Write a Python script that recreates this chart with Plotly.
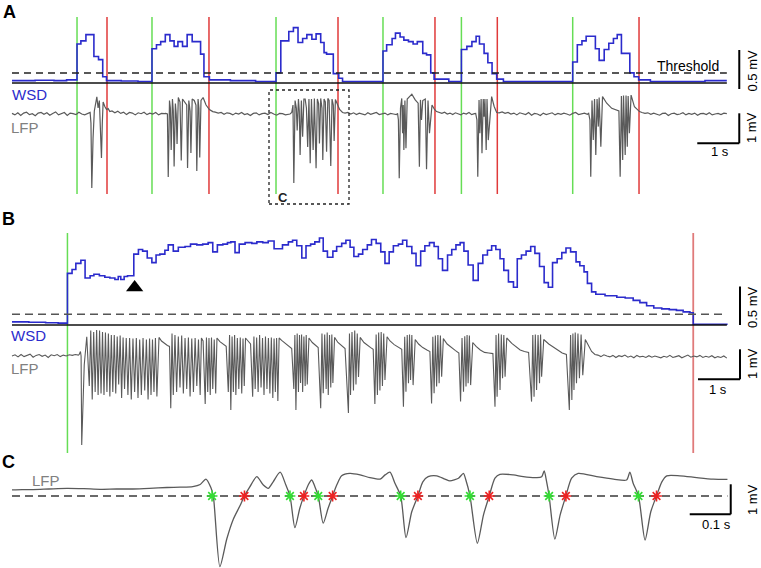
import numpy as np
import plotly.graph_objects as go

FONT = "Liberation Sans, Arial, sans-serif"
W, H = 761, 568
BLUE = "#2b2bcc"
GRAY = "#5a5a5a"
GREEN = "#66dd55"
RED_A = "#e03a3a"
RED_B = "#e07a7a"

# ================= DATA =================
# ---- Panel A : WSD (mV), step series (time s, value) ----
wsdA = [(0.00, 0.03), (0.55, 0.035), (1.00, 0.03), (1.30, 0.04), (1.548, 0.50), (1.64, 0.54), (1.76, 0.62),
        (1.95, 0.34), (2.06, 0.30), (2.16, 0.08), (2.25, 0.03), (2.60, 0.025), (3.00, 0.02),
        (3.333, 0.44), (3.44, 0.49), (3.54, 0.53), (3.65, 0.62), (3.76, 0.54), (3.86, 0.47), (3.95, 0.53),
        (4.06, 0.47), (4.17, 0.62), (4.29, 0.53), (4.49, 0.37), (4.57, 0.08), (4.70, 0.04), (5.20, 0.03), (5.80, 0.02),
        (6.286, 0.13), (6.40, 0.54), (6.59, 0.66), (6.70, 0.71), (6.81, 0.52), (6.92, 0.57), (7.02, 0.62), (7.14, 0.56),
        (7.24, 0.63), (7.35, 0.52), (7.43, 0.39), (7.49, 0.37), (7.65, 0.12), (7.78, 0.06), (7.87, 0.02),
        (8.833, 0.41), (8.92, 0.49), (9.05, 0.57), (9.13, 0.64), (9.24, 0.59), (9.33, 0.55), (9.44, 0.53), (9.55, 0.50),
        (9.65, 0.53), (9.78, 0.38), (9.87, 0.36), (9.97, 0.13), (10.05, 0.05), (10.40, 0.02),
        (10.70, 0.43), (10.83, 0.47), (10.95, 0.53), (11.05, 0.60), (11.13, 0.50), (11.24, 0.38), (11.33, 0.26),
        (11.43, 0.12), (11.54, 0.05), (11.70, 0.02),
        (13.35, 0.27), (13.46, 0.49), (13.57, 0.54), (13.67, 0.60), (13.89, 0.44), (13.98, 0.29), (14.10, 0.43),
        (14.21, 0.51), (14.32, 0.57), (14.41, 0.62), (14.51, 0.38), (14.71, 0.13), (14.81, 0.08), (14.92, 0.04),
        (15.20, 0.02), (16.50, 0.03), (17.02, 0.03)]
thrA = 0.128
onA = [1.548, 3.333, 6.286, 8.833, 10.70, 13.35]
offA = [2.262, 4.690, 7.762, 10.071, 11.555, 14.929]

# ---- Panel A : LFP (mV) bursts (time s, value) ----
lfpA_burst1 = [(1.83, 0.02), (1.86, 0.05), (1.88, -0.3), (1.90, -2.47), (1.93, -0.8), (1.96, 0.1), (2.02, 0.57),
               (2.05, 0.2), (2.08, 0.45), (2.11, -0.4), (2.13, -1.47), (2.15, -0.3), (2.17, 0.4), (2.21, 0.25),
               (2.25, 0.15), (2.29, 0.18), (2.33, 0.08)]
lfpA_burst2 = [(3.66, 0.02), (3.70, 0.0), (3.72, -2.1), (3.75, 0.45), (3.77, 0.2), (3.79, -1.2), (3.82, 0.5),
               (3.84, 0.1), (3.86, -1.75), (3.89, 0.35), (3.91, 0.0), (3.93, -1.0), (3.96, 0.55), (4.00, 0.4),
               (4.03, -1.55), (4.06, 0.5), (4.12, 0.4), (4.16, 0.3), (4.18, -1.8), (4.21, 0.45), (4.24, 0.1),
               (4.26, -1.3), (4.29, 0.5), (4.34, 0.45), (4.38, 0.3), (4.40, -1.9), (4.43, 0.5), (4.45, 0.2),
               (4.47, -1.45), (4.50, 0.45), (4.55, 0.55), (4.62, 0.3), (4.70, 0.15), (4.78, 0.08)]
lfpA_burst3 = [(6.62, 0.0), (6.66, 0.05), (6.69, 0.3), (6.71, -2.3), (6.74, 0.45), (6.77, 0.2), (6.79, -0.55),
               (6.82, 0.5), (6.84, 0.1), (6.86, -1.37), (6.89, 0.45), (6.92, -0.76), (6.95, 0.5), (6.98, 0.5),
               (7.01, 0.2), (7.04, -1.1), (7.07, 0.5), (7.10, -1.64), (7.13, 0.5), (7.17, -1.2), (7.20, 0.52),
               (7.24, -1.81), (7.27, 0.5), (7.30, 0.35), (7.32, -0.98), (7.35, 0.52), (7.38, 0.2), (7.40, -1.53),
               (7.43, 0.5), (7.46, 0.4), (7.49, -1.26), (7.52, 0.52), (7.55, 0.45), (7.59, -1.73), (7.62, 0.5),
               (7.65, 0.3), (7.67, -0.9), (7.70, 0.48), (7.75, 0.3), (7.80, 0.15), (7.87, 0.05)]
lfpA_burst4 = [(9.18, 0.02), (9.20, -0.2), (9.22, -2.14), (9.25, 0.2), (9.28, 0.52), (9.30, -0.64), (9.315, 0.3),
               (9.33, -1.2), (9.355, 0.45), (9.38, -1.14), (9.41, 0.5), (9.52, 0.66), (9.60, 0.47), (9.67, 0.36),
               (9.70, -1.76), (9.725, 0.47), (9.75, -0.2), (9.78, 0.45), (9.84, 0.5), (9.87, -1.84), (9.905, 0.45),
               (9.94, -0.64), (10.00, 0.3), (10.06, 0.15), (10.11, 0.08)]
lfpA_burst5 = [(11.04, 0.02), (11.07, -0.2), (11.09, -2.09), (11.12, 0.47), (11.14, -0.64), (11.17, 0.5),
               (11.19, -1.31), (11.22, 0.5), (11.24, -0.09), (11.26, 0.5), (11.29, -1.2), (11.31, 0.5),
               (11.34, -0.87), (11.42, 0.58), (11.48, 0.25), (11.54, 0.05)]
lfpA_burst6 = [(13.73, 0.02), (13.76, -0.2), (13.78, -2.09), (13.81, 0.45), (13.84, -0.87), (13.87, 0.5),
               (13.90, -1.37), (13.93, 0.5), (13.96, -0.42), (13.98, 0.55), (14.02, -1.09), (14.06, 0.58),
               (14.16, 0.36), (14.28, 0.19), (14.40, 0.13), (14.45, 0.1), (14.48, -2.09), (14.51, 0.6),
               (14.54, -1.53), (14.56, 0.62), (14.60, -1.37), (14.62, 0.62), (14.65, -1.09), (14.67, 0.6),
               (14.70, -0.64), (14.74, 0.63), (14.82, 0.24), (14.94, 0.08)]
# resting LFP between bursts: (start s, end s) and sampled values (mV)
lfpA_rest_span = [(0.00, 1.80), (2.38, 3.63), (4.84, 6.58), (7.93, 9.15), (10.17, 11.01), (11.60, 13.70), (15.00, 17.02)]
lfpA_rest_vals = [
    [0.02, -0.03, 0.04, -0.05, 0.03, 0.06, -0.02, 0.01, -0.06, 0.03, 0.05, -0.01, 0.04, -0.04, 0.02, 0.07, -0.03,
     0.0, 0.05, -0.05, 0.03, 0.01, -0.02, 0.06, 0.0, -0.03, 0.02],
    [0.1, 0.04, 0.09, 0.02, 0.06, -0.02, 0.05, 0.03, -0.03, 0.04, 0.01, 0.06, -0.02, 0.03, 0.0, 0.05, -0.03, 0.02, 0.01],
    [0.06, 0.03, 0.05, -0.01, 0.04, 0.02, -0.03, 0.03, 0.0, 0.05, -0.02, 0.01, -0.05, 0.02, 0.04, -0.03, 0.01, 0.03,
     -0.02, 0.05, 0.0, -0.04, 0.02, 0.01, -0.03, 0.0],
    [0.03, 0.05, 0.0, 0.04, -0.02, 0.03, 0.01, -0.03, 0.04, -0.01, 0.02, 0.05, -0.02, 0.01, 0.03, -0.03, 0.02, 0.0, -0.02],
    [0.05, 0.02, 0.06, 0.0, 0.03, -0.02, 0.04, 0.01, -0.03, 0.03, 0.0, 0.05, -0.02, 0.01],
    [0.04, 0.07, 0.02, 0.05, 0.0, 0.03, -0.03, 0.04, 0.01, -0.02, 0.05, -0.04, 0.02, 0.0, -0.05, 0.03, -0.02, 0.01,
     0.04, -0.03, 0.02, -0.01, 0.03, 0.0, -0.04, 0.02, 0.05, -0.02, 0.01, 0.03, -0.01],
    [0.05, 0.02, 0.04, -0.01, 0.03, 0.0, -0.04, 0.02, 0.03, -0.05, 0.01, 0.03, -0.02, 0.0, 0.04, -0.03, 0.02, -0.01,
     0.03, -0.04, 0.01, 0.02, -0.02, 0.04, -0.03, 0.0, 0.02, -0.02, 0.03, 0.01],
]

# ---- Panel B : WSD (mV) ----
wsdB = [(0.00, 0.04), (0.40, 0.035), (0.80, 0.03), (1.10, 0.025), (1.32, 0.67), (1.43, 0.72), (1.52, 0.80),
        (1.64, 0.84), (1.74, 0.61), (1.86, 0.64), (1.95, 0.66), (2.08, 0.64), (2.21, 0.62), (2.33, 0.61),
        (2.45, 0.59), (2.53, 0.63), (2.59, 0.59), (2.67, 0.63), (2.75, 0.64), (2.90, 0.92), (3.01, 0.98),
        (3.11, 0.96), (3.22, 0.87), (3.33, 0.81), (3.43, 0.91), (3.52, 0.92), (3.64, 0.97), (3.72, 1.04),
        (3.84, 0.96), (3.96, 1.01), (4.12, 1.02), (4.25, 1.05), (4.40, 1.04), (4.54, 1.05), (4.67, 1.07),
        (4.78, 0.95), (4.89, 1.04), (5.02, 1.05), (5.13, 1.07), (5.21, 1.08), (5.31, 0.94), (5.41, 1.05),
        (5.55, 1.07), (5.71, 1.06), (5.83, 1.08), (5.97, 1.07), (6.10, 1.09), (6.24, 0.99), (6.44, 1.04),
        (6.58, 1.08), (6.68, 1.10), (6.78, 1.03), (6.90, 0.87), (7.00, 1.03), (7.11, 1.05), (7.21, 1.08),
        (7.32, 1.13), (7.41, 0.96), (7.51, 0.88), (7.64, 0.96), (7.73, 1.02), (7.85, 1.06), (7.95, 1.10),
        (8.05, 1.01), (8.14, 0.89), (8.25, 0.92), (8.35, 0.98), (8.46, 1.04), (8.56, 1.11), (8.67, 1.06),
        (8.78, 0.95), (8.88, 0.80), (8.98, 0.95), (9.08, 1.03), (9.20, 1.05), (9.30, 1.10), (9.40, 1.02),
        (9.52, 0.93), (9.62, 0.77), (9.73, 0.96), (9.83, 1.03), (9.94, 1.07), (10.05, 1.02), (10.15, 0.86),
        (10.25, 0.71), (10.37, 0.91), (10.47, 0.98), (10.57, 1.04), (10.67, 1.07), (10.76, 0.96), (10.86, 0.78),
        (10.98, 0.58), (11.10, 0.80), (11.21, 0.91), (11.32, 0.97), (11.42, 1.03), (11.52, 0.98), (11.62, 0.86),
        (11.71, 0.71), (11.82, 0.56), (11.94, 0.49), (12.03, 0.86), (12.13, 0.91), (12.24, 0.96), (12.35, 1.02),
        (12.45, 0.93), (12.56, 0.76), (12.67, 0.55), (12.77, 0.49), (12.87, 0.81), (12.98, 0.86), (13.09, 0.94),
        (13.19, 1.00), (13.30, 0.95), (13.43, 0.82), (13.52, 0.77), (13.62, 0.69), (13.70, 0.54), (13.80, 0.43),
        (13.90, 0.40), (14.12, 0.38), (14.40, 0.36), (14.60, 0.35), (14.79, 0.32), (14.95, 0.29), (15.11, 0.25),
        (15.28, 0.22), (15.47, 0.21), (15.65, 0.20), (15.82, 0.19), (15.98, 0.17), (16.14, 0.16), (16.22, 0.01),
        (17.02, 0.02)]
thrB = 0.14
onB = [1.32]
offB = [16.22]
arrowB = (2.92, 0.487)

# ---- Panel B : LFP (mV) ----
lfpB_seizure = [
    (1.60, 0.05), (1.63, 0.15), (1.645, 0.0), (1.66, -2.97), (1.72, -0.3), (1.78, 0.64),
    (1.84, -1.0), (1.875, 0.85), (1.91, -1.45), (1.945, 0.8), (1.98, -1.2), (2.015, 0.87), (2.05, -1.3),
    (2.085, 0.85), (2.12, -1.25), (2.155, 0.8), (2.19, -1.3), (2.225, 0.78), (2.26, -1.2), (2.295, 0.75),
    (2.33, -1.35), (2.365, 0.7), (2.40, -1.2), (2.435, 0.7), (2.47, -1.25), (2.505, 0.65), (2.54, -0.95),
    (2.575, 0.68), (2.61, -1.4), (2.645, 0.62), (2.68, -1.1), (2.72, 0.6), (2.76, -1.3), (2.80, 0.6),
    (2.84, -1.45), (2.88, 0.58), (2.92, -1.2), (2.96, 0.6), (3.00, -1.4), (3.04, 0.55), (3.08, -1.3),
    (3.12, 0.6), (3.16, -1.15), (3.20, 0.55), (3.24, -1.45), (3.275, 0.58), (3.31, -1.3), (3.345, 0.55),
    (3.38, -1.2), (3.415, 0.6), (3.45, -1.35), (3.50, 0.62),
    (3.56, 0.5), (3.63, 0.42), (3.70, 0.35), (3.75, 0.32),
    (3.78, -1.74), (3.81, 0.75), (3.84, -1.3), (3.88, 0.7), (3.92, -1.2), (3.96, 0.65), (4.00, -1.05),
    (4.04, 0.68), (4.08, -1.25), (4.12, 0.6), (4.16, -1.1), (4.20, 0.62), (4.24, -1.35), (4.28, 0.58),
    (4.32, -1.2), (4.36, 0.6), (4.40, -1.0), (4.44, 0.55), (4.48, -1.3), (4.51, 0.6),
    (4.55, 0.5),
    (4.60, -1.6), (4.63, 0.62), (4.66, -1.2), (4.69, 0.6), (4.72, -1.3), (4.75, 0.62), (4.78, -1.1),
    (4.815, 0.55), (4.85, -1.25), (4.88, 0.6),
    (4.95, 0.48), (5.03, 0.38), (5.10, 0.32),
    (5.15, -1.2), (5.18, 0.7), (5.21, -1.8), (5.24, 0.65), (5.27, -1.2), (5.30, 0.7), (5.33, -1.3),
    (5.365, 0.6), (5.40, -1.1), (5.435, 0.62), (5.47, -1.25), (5.50, 0.58), (5.53, -1.0), (5.56, 0.6),
    (5.62, 0.5), (5.68, 0.4),
    (5.73, -1.36), (5.76, 0.65), (5.79, -1.1), (5.825, 0.62), (5.86, -1.2), (5.895, 0.7), (5.93, -1.05),
    (5.965, 0.6), (6.00, -1.3), (6.035, 0.65), (6.07, -1.1), (6.105, 0.6), (6.14, -1.25), (6.175, 0.62),
    (6.21, -1.4), (6.24, 0.58), (6.27, -1.2), (6.30, 0.6), (6.33, -1.5), (6.36, 0.6),
    (6.42, 0.52), (6.50, 0.42), (6.58, 0.32), (6.66, 0.25),
    (6.71, -1.1), (6.735, 0.7), (6.76, -1.8), (6.79, 0.75), (6.82, -1.2), (6.845, 0.7), (6.87, -0.9),
    (6.895, 0.72), (6.92, -1.2), (6.95, 0.65), (6.98, -1.0), (7.005, 0.7), (7.03, -0.95), (7.07, 0.6),
    (7.15, 0.45), (7.22, 0.35), (7.29, 0.28),
    (7.35, -1.74), (7.38, 0.75), (7.41, -1.24), (7.445, 0.72), (7.48, -1.1), (7.505, 0.78), (7.53, -1.3),
    (7.56, 0.7), (7.59, -1.05), (7.615, 0.72), (7.64, -0.9), (7.68, 0.62),
    (7.76, 0.45), (7.85, 0.35), (7.93, 0.25),
    (8.01, -1.9), (8.035, 0.75), (8.06, -1.3), (8.095, 0.8), (8.13, -1.15), (8.16, 0.85), (8.19, -0.95),
    (8.22, 0.75), (8.25, -0.7), (8.29, 0.62),
    (8.38, 0.45), (8.46, 0.35), (8.54, 0.28), (8.60, 0.22),
    (8.64, -1.6), (8.67, 0.72), (8.70, -1.3), (8.73, 0.78), (8.76, -1.15), (8.79, 0.8), (8.82, -1.0),
    (8.85, 0.75), (8.88, -0.8), (8.93, 0.64),
    (9.00, 0.5), (9.10, 0.38), (9.20, 0.3), (9.28, 0.22),
    (9.32, -1.69), (9.35, 0.64), (9.38, -1.19), (9.41, 0.7), (9.44, -0.91), (9.465, 0.72), (9.49, -0.8),
    (9.52, 0.7), (9.55, -0.97), (9.60, 0.55),
    (9.68, 0.4), (9.78, 0.28), (9.88, 0.2), (9.95, 0.15),
    (9.99, -1.58), (10.02, 0.64), (10.05, -1.24), (10.08, 0.68), (10.11, -1.02), (10.14, 0.7), (10.17, -0.91),
    (10.20, 0.68), (10.23, -0.69), (10.27, 0.58),
    (10.36, 0.4), (10.46, 0.28), (10.56, 0.18), (10.64, 0.1),
    (10.68, -1.52), (10.715, 0.6), (10.75, -1.19), (10.78, 0.66), (10.81, -1.02), (10.835, 0.7), (10.86, -0.91),
    (10.89, 0.68), (10.92, -0.97), (10.97, 0.45),
    (11.05, 0.32), (11.15, 0.2), (11.25, 0.12), (11.35, 0.1), (11.45, 0.08),
    (11.50, -1.69), (11.525, 0.7), (11.55, -1.36), (11.585, 0.75), (11.62, -1.13), (11.65, 0.72), (11.68, -0.74),
    (11.71, 0.7), (11.74, -0.69), (11.78, 0.6),
    (11.90, 0.42), (12.00, 0.3), (12.10, 0.2), (12.20, 0.15), (12.30, 0.12),
    (12.37, -1.52), (12.40, 0.7), (12.43, -1.36), (12.46, 0.72), (12.49, -1.13), (12.525, 0.7), (12.56, -0.91),
    (12.585, 0.72), (12.61, -0.69), (12.66, 0.55),
    (12.78, 0.4), (12.90, 0.28), (13.00, 0.18), (13.10, 0.1), (13.20, 0.05),
    (13.27, -1.8), (13.30, 0.7), (13.33, -1.47), (13.355, 0.75), (13.38, -1.13), (13.41, 0.78), (13.44, -0.91),
    (13.475, 0.75), (13.51, -0.74), (13.55, 0.72), (13.59, -0.64), (13.65, 0.55),
    (13.72, 0.35), (13.80, 0.15), (13.88, 0.05)]
lfpB_rest_span = [(0.00, 1.58), (13.95, 17.02)]
lfpB_rest_vals = [
    [0.0, 0.04, -0.03, 0.05, -0.02, 0.03, 0.06, -0.04, 0.02, 0.05, -0.01, 0.03, -0.05, 0.04, 0.01, 0.05, -0.02,
     0.03, 0.0, 0.04, 0.02, 0.05, 0.03],
    [0.03, -0.02, 0.04, 0.0, -0.03, 0.02, -0.05, 0.01, -0.02, 0.03, -0.04, 0.0, -0.06, 0.02, -0.03, -0.01, -0.05,
     0.01, -0.04, 0.0, -0.03, -0.06, -0.01, -0.04, 0.02, -0.05, -0.02, 0.01, -0.06, -0.02, 0.03, -0.04, 0.0,
     -0.03, 0.02, -0.05, -0.01, -0.04, 0.01, -0.06, -0.02, -0.05, 0.0, -0.07],
]

# ---- Panel C : LFP zoom (time s, mV) ----
lfpC = [(0.000, -0.03), (0.025, -0.02), (0.051, -0.02), (0.090, 0.00), (0.134, 0.02), (0.175, 0.01),
        (0.215, -0.01), (0.255, 0.00), (0.295, 0.00), (0.335, 0.02), (0.378, 0.05), (0.410, 0.06),
        (0.441, 0.08), (0.459, 0.15), (0.473, 0.33), (0.485, 0.05), (0.491, -0.23), (0.507, -2.59),
        (0.524, -1.66), (0.540, -1.0), (0.556, -0.56), (0.567, -0.23), (0.580, 0.07), (0.597, 0.41),
        (0.613, 0.13), (0.625, 0.02), (0.637, 0.24), (0.654, 0.56), (0.668, 0.13), (0.678, -0.23),
        (0.690, -1.29), (0.702, -0.64), (0.712, -0.23), (0.723, 0.15), (0.731, 0.30), (0.739, 0.07),
        (0.747, -0.23), (0.759, -1.14), (0.771, -0.64), (0.782, -0.23), (0.792, 0.13), (0.804, 0.44),
        (0.824, 0.52), (0.849, 0.47), (0.873, 0.38), (0.898, 0.33), (0.910, 0.47), (0.922, 0.56),
        (0.934, 0.19), (0.948, -0.23), (0.961, -1.62), (0.975, -0.76), (0.990, -0.23), (1.002, 0.24),
        (1.015, 0.41), (1.036, 0.44), (1.056, 0.33), (1.068, 0.27), (1.089, 0.36), (1.101, 0.52),
        (1.107, 0.30), (1.117, -0.23), (1.135, -1.81), (1.150, -0.86), (1.164, -0.23), (1.178, 0.36),
        (1.190, 0.49), (1.223, 0.47), (1.247, 0.41), (1.280, 0.38), (1.292, 0.41), (1.298, 0.60),
        (1.304, 0.24), (1.310, -0.23), (1.324, -1.67), (1.337, -0.86), (1.351, -0.23), (1.365, 0.36),
        (1.381, 0.52), (1.426, 0.41), (1.467, 0.33), (1.499, 0.30), (1.507, 0.56), (1.515, 0.19),
        (1.528, -0.23), (1.544, -1.70), (1.558, -0.76), (1.572, -0.23), (1.585, 0.24), (1.597, 0.44),
        (1.629, 0.44), (1.670, 0.38), (1.710, 0.33), (1.745, 0.32)]
thrC = -0.233
onC = [0.488, 0.678, 0.747, 0.948, 1.117, 1.310, 1.528]
offC = [0.567, 0.712, 0.782, 0.990, 1.164, 1.351, 1.572]


# ================= helpers =================
def assemble(spans, vals, bursts):
    pts = []
    for (s, e), v in zip(spans, vals):
        ts = np.linspace(s, e, len(v))
        pts += list(zip(ts.tolist(), v))
    for b in bursts:
        pts += list(b)
    pts.sort(key=lambda p: p[0])
    return [p[0] for p in pts], [p[1] for p in pts]


def xs(pairs):
    return [p[0] for p in pairs]


def ys(pairs):
    return [p[1] for p in pairs]


lfpA_t, lfpA_v = assemble(lfpA_rest_span, lfpA_rest_vals,
                          [lfpA_burst1, lfpA_burst2, lfpA_burst3, lfpA_burst4, lfpA_burst5, lfpA_burst6])
lfpB_t, lfpB_v = assemble(lfpB_rest_span, lfpB_rest_vals, [lfpB_seizure])

fig = go.Figure()
# Panel A
fig.add_trace(go.Scatter(x=xs(wsdA), y=ys(wsdA), mode="lines", xaxis="x", yaxis="y",
                         line=dict(color=BLUE, width=1.6, shape="hv"), hoverinfo="skip"))
fig.add_trace(go.Scatter(x=lfpA_t, y=lfpA_v, mode="lines", xaxis="x", yaxis="y2",
                         line=dict(color=GRAY, width=1.2), hoverinfo="skip"))
# Panel B
fig.add_trace(go.Scatter(x=xs(wsdB), y=ys(wsdB), mode="lines", xaxis="x2", yaxis="y3",
                         line=dict(color=BLUE, width=1.6, shape="hv"), hoverinfo="skip"))
fig.add_trace(go.Scatter(x=lfpB_t, y=lfpB_v, mode="lines", xaxis="x2", yaxis="y4",
                         line=dict(color=GRAY, width=1.1), hoverinfo="skip"))
fig.add_trace(go.Scatter(x=[arrowB[0]], y=[arrowB[1]], mode="markers", xaxis="x2", yaxis="y3",
                         marker=dict(symbol="triangle-up", size=15, color="black"), hoverinfo="skip"))
# Panel C
fig.add_trace(go.Scatter(x=xs(lfpC), y=ys(lfpC), mode="lines", xaxis="x3", yaxis="y5",
                         line=dict(color=GRAY, width=1.3, shape="spline", smoothing=0.7), hoverinfo="skip"))
fig.add_trace(go.Scatter(x=onC, y=[thrC] * len(onC), mode="markers", xaxis="x3", yaxis="y5",
                         marker=dict(symbol="asterisk-open", size=9, color="#33dd33",
                                     line=dict(color="#33dd33", width=1.6)),
                         hoverinfo="skip"))
fig.add_trace(go.Scatter(x=offC, y=[thrC] * len(offC), mode="markers", xaxis="x3", yaxis="y5",
                         marker=dict(symbol="asterisk-open", size=9, color="#ee2222",
                                     line=dict(color="#ee2222", width=1.6)),
                         hoverinfo="skip"))

shapes = []


def pv(py):
    return 1 - py / H


# event lines
for t in onA:
    shapes.append(dict(type="line", xref="x", yref="paper", x0=t, x1=t, y0=pv(194), y1=pv(17),
                       line=dict(color=GREEN, width=1.5), layer="below"))
for t in offA:
    shapes.append(dict(type="line", xref="x", yref="paper", x0=t, x1=t, y0=pv(194), y1=pv(17),
                       line=dict(color=RED_A, width=1.5), layer="below"))
for t in onB:
    shapes.append(dict(type="line", xref="x2", yref="paper", x0=t, x1=t, y0=pv(453), y1=pv(233),
                       line=dict(color=GREEN, width=1.5), layer="below"))
for t in offB:
    shapes.append(dict(type="line", xref="x2", yref="paper", x0=t, x1=t, y0=pv(453), y1=pv(233),
                       line=dict(color=RED_B, width=1.8), layer="below"))

TEND = 17.02
# baselines and thresholds
shapes.append(dict(type="line", xref="x", yref="y", x0=0, x1=TEND, y0=0, y1=0, line=dict(color="#111", width=1.3)))
shapes.append(dict(type="line", xref="x", yref="y", x0=0, x1=TEND, y0=thrA, y1=thrA,
                   line=dict(color="#222", width=1.3, dash="7px,5px")))
shapes.append(dict(type="line", xref="x2", yref="y3", x0=0, x1=TEND, y0=0, y1=0, line=dict(color="#111", width=1.3)))
shapes.append(dict(type="line", xref="x2", yref="y3", x0=0, x1=TEND, y0=thrB, y1=thrB,
                   line=dict(color="#555", width=1.6, dash="8px,5px")))
shapes.append(dict(type="line", xref="x3", yref="y5", x0=0, x1=1.745, y0=thrC, y1=thrC,
                   line=dict(color="#6a6a6a", width=2, dash="8px,5px"), layer="below"))
# box marking panel C
shapes.append(dict(type="rect", xref="x", yref="paper", x0=6.119, x1=8.024, y0=pv(204), y1=pv(90),
                   line=dict(color="#222", width=1.3, dash="3px,3px")))

# scale bars
SB = dict(color="black", width=2)
shapes += [
    dict(type="line", xref="x", yref="y", x0=17.316, x1=17.316, y0=-0.077, y1=0.423, line=SB),
    dict(type="line", xref="x", yref="y2", x0=17.316, x1=17.316, y0=-0.977, y1=0.023, line=SB),
    dict(type="line", xref="x", yref="y2", x0=16.316, x1=17.316, y0=-0.977, y1=-0.977, line=SB),
    dict(type="line", xref="x2", yref="y3", x0=17.333, x1=17.333, y0=0.0, y1=0.5, line=SB),
    dict(type="line", xref="x2", yref="y4", x0=17.333, x1=17.333, y0=-0.777, y1=0.223, line=SB),
    dict(type="line", xref="x2", yref="y4", x0=16.333, x1=17.333, y0=-0.777, y1=-0.777, line=SB),
    dict(type="line", xref="x3", yref="y5", x0=1.753, x1=1.753, y0=-0.843, y1=0.157, line=SB),
    dict(type="line", xref="x3", yref="y5", x0=1.653, x1=1.753, y0=-0.843, y1=-0.843, line=SB),
]


def label(text, px, py, size, color="#000", bold=False, angle=0):
    return dict(text=f"<b>{text}</b>" if bold else text, x=px / W, y=pv(py), xref="paper", yref="paper",
                showarrow=False, xanchor="center", yanchor="middle", textangle=angle,
                font=dict(family=FONT, size=size, color=color))


annotations = [
    label("A", 9, 12, 18, bold=True),
    label("B", 8, 219, 18, bold=True),
    label("C", 8, 462, 18, bold=True),
    label("WSD", 29.5, 94, 15, BLUE),
    label("LFP", 24.5, 127.5, 15, "#808080"),
    label("WSD", 28.5, 335.5, 15, BLUE),
    label("LFP", 24.5, 368.5, 15, "#808080"),
    label("LFP", 45.5, 480.5, 15, "#808080"),
    label("Threshold", 687.5, 65.5, 14),
    label("C", 283, 197.5, 13, "#222", bold=True),
    label("0.5 mV", 751.5, 71, 13, angle=-90),
    label("1 mV", 751.5, 127.5, 13, angle=-90),
    label("1 s", 720, 151, 13),
    label("0.5 mV", 752, 307, 13, angle=-90),
    label("1 mV", 752, 364, 13, angle=-90),
    label("1 s", 718, 389, 13),
    label("1 mV", 752, 500, 13, angle=-90),
    label("0.1 s", 716, 524, 13),
]

ax = dict(visible=False, fixedrange=True, showgrid=False, zeroline=False)
fig.update_layout(
    template="none",
    width=W, height=H, margin=dict(l=0, r=0, t=0, b=0, pad=0), autosize=False,
    paper_bgcolor="white", plot_bgcolor="rgba(0,0,0,0)", showlegend=False,
    xaxis=dict(ax, domain=[0, 1], range=[-12 / 42, 749 / 42], anchor="y"),
    yaxis=dict(ax, domain=[0, 1], range=[(83 - 568) / 78, 83 / 78], anchor="x"),
    yaxis2=dict(ax, domain=[0, 1], range=[(114 - 568) / 30, 114 / 30], anchor="x", overlaying="y"),
    xaxis2=dict(ax, domain=[0, 1], range=[-12 / 42, 749 / 42], anchor="y3"),
    yaxis3=dict(ax, domain=[0, 1], range=[(325 - 568) / 77, 325 / 77], anchor="x2"),
    yaxis4=dict(ax, domain=[0, 1], range=[(356 - 568) / 30, 356 / 30], anchor="x2", overlaying="y3"),
    xaxis3=dict(ax, domain=[0, 1], range=[-12 / 410, 749 / 410], anchor="y5"),
    yaxis5=dict(ax, domain=[0, 1], range=[(489 - 568) / 30, 489 / 30], anchor="x3"),
    shapes=shapes, annotations=annotations,
)

fig.write_html("out.html", include_plotlyjs=True, config={"displayModeBar": False, "staticPlot": True},
               post_script="document.body.style.margin='0';document.body.style.overflow='hidden';")
